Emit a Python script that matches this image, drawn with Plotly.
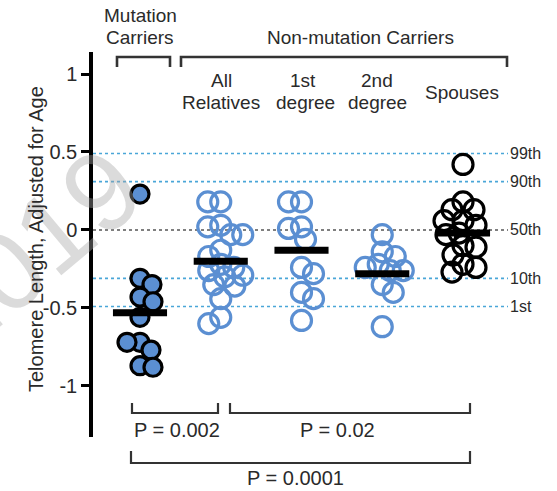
import numpy as np
import plotly.graph_objects as go

# ---------------- data ----------------
groups = ["Mutation Carriers", "All Relatives", "1st degree", "2nd degree", "Spouses"]
mutation_carriers = [0.23, -0.31, -0.35, -0.43, -0.46, -0.56, -0.72, -0.72, -0.77, -0.87, -0.88]
all_relatives = [0.18, 0.18, 0.03, 0.02, -0.03, -0.03, -0.13, -0.17, -0.22, -0.24, -0.26,
                 -0.29, -0.30, -0.35, -0.36, -0.44, -0.56, -0.60]
first_degree = [0.18, 0.18, 0.02, 0.01, -0.06, -0.24, -0.28, -0.40, -0.44, -0.58]
second_degree = [-0.03, -0.14, -0.17, -0.22, -0.24, -0.26, -0.26, -0.35, -0.40, -0.62]
spouses = [0.42, 0.18, 0.13, 0.13, 0.06, 0.06, 0.03, -0.02, -0.03, -0.10, -0.11,
           -0.16, -0.22, -0.24, -0.27]
group_means = [-0.53, -0.20, -0.13, -0.28, -0.02]
percentile_values = [0.49, 0.31, 0.0, -0.31, -0.49]
percentile_labels = ["99th", "90th", "50th", "10th", "1st"]
y_tick_values = [-1, -0.5, 0, 0.5, 1]
y_tick_labels = ["-1", "-0.5", "0", "0.5", "1"]
p_labels = ["P = 0.002", "P = 0.02", "P = 0.0001"]

series = [mutation_carriers, all_relatives, first_degree, second_degree, spouses]

# ---------------- layout constants ----------------
W, H = 557, 491
ML, MR, MT, MB = 93, 47, 52, 54
PW, PH = W - ML - MR, H - MT - MB
XR = [-0.582, 4.582]
YR = [-1.327, 1.141]
px_per_x = PW / (XR[1] - XR[0])
px_per_y = PH / (YR[1] - YR[0])

FONT = "Liberation Sans, Arial, sans-serif"
TXT = "#2a2a2a"
BLUE = "#5b8fd2"


def px2x(X):
    return (X - ML) / PW


def px2y(Y):
    return (H - MB - Y) / PH


def swarm(values, min_dist=13.0, max_off=22):
    """Simple deterministic beeswarm: nearest-to-centre offset that keeps points apart."""
    placed = []
    offs = []
    for n, v in enumerate(values):
        yp = v * px_per_y
        cands = [0.0]
        for k in range(1, max_off + 1):
            cands += [k, -k] if n % 2 == 0 else [-k, k]
        best, best_d = 0.0, -1.0
        chosen = None
        for c in cands:
            d = min([np.hypot(c - px, yp - py) for px, py in placed] or [1e9])
            if d >= min_dist:
                chosen = c
                break
            if d > best_d:
                best, best_d = c, d
        if chosen is None:
            chosen = best
        placed.append((chosen, yp))
        offs.append(chosen / px_per_x)
    return offs


fig = go.Figure()

styles = [
    dict(symbol="circle", size=18, color=BLUE, line=dict(color="black", width=3.2)),
    dict(symbol="circle-open", size=20, color=BLUE, line=dict(width=3.2)),
    dict(symbol="circle-open", size=20, color=BLUE, line=dict(width=3.2)),
    dict(symbol="circle-open", size=20, color=BLUE, line=dict(width=3.2)),
    dict(symbol="circle-open", size=20, color="black", line=dict(width=3.2)),
]

for i, (vals, st) in enumerate(zip(series, styles)):
    offs = swarm(vals)
    fig.add_trace(go.Scatter(
        x=[i + o for o in offs], y=vals, mode="markers",
        marker=st, showlegend=False, hoverinfo="y", cliponaxis=False))

for i, m in enumerate(group_means):
    fig.add_trace(go.Scatter(
        x=[i - 0.335, i + 0.335], y=[m, m], mode="lines",
        line=dict(color="black", width=7), showlegend=False, hoverinfo="skip"))

shapes = []
annotations = []

# faint watermark (drawn first, behind everything)
annotations.append(dict(text="2019", xref="paper", yref="paper", x=px2x(30), y=px2y(252),
                        textangle=-40, showarrow=False, xanchor="center", yanchor="middle",
                        font=dict(size=112, color="rgba(165,165,165,0.40)", family=FONT)))

# percentile reference lines
for v, lab in zip(percentile_values, percentile_labels):
    col = "#555555" if v == 0 else "#4aa6d8"
    shapes.append(dict(type="line", xref="paper", yref="y", x0=0, x1=px2x(508), y0=v, y1=v,
                       line=dict(color=col, width=1.6, dash="dot"), layer="below"))
    annotations.append(dict(text=lab, xref="paper", yref="y", x=px2x(508), y=v,
                            xanchor="left", yanchor="middle", showarrow=False,
                            font=dict(size=16, color=TXT, family=FONT)))

LC = "#333333"


def bracket_down(x0, x1, ytop, ybot):
    return dict(type="path", xref="paper", yref="paper",
                path=f"M {px2x(x0)},{px2y(ybot)} L {px2x(x0)},{px2y(ytop)} "
                     f"L {px2x(x1)},{px2y(ytop)} L {px2x(x1)},{px2y(ybot)}",
                line=dict(color=LC, width=2.6))


def bracket_up(x0, x1, ytop, ybot):
    return dict(type="path", xref="paper", yref="paper",
                path=f"M {px2x(x0)},{px2y(ytop)} L {px2x(x0)},{px2y(ybot)} "
                     f"L {px2x(x1)},{px2y(ybot)} L {px2x(x1)},{px2y(ytop)}",
                line=dict(color=LC, width=2.2))


shapes += [bracket_down(117, 170, 57, 67), bracket_down(181, 507, 57, 67),
           bracket_up(132, 218, 403, 413), bracket_up(230, 470, 403, 413),
           bracket_up(131, 470, 451, 463)]


def text(t, X, Y, size=19, anchor="center"):
    annotations.append(dict(text=t, xref="paper", yref="paper", x=px2x(X), y=px2y(Y),
                            xanchor=anchor, yanchor="middle", showarrow=False,
                            font=dict(size=size, color=TXT, family=FONT)))


text("Mutation", 140, 15)
text("Carriers", 140, 37)
text("Non-mutation Carriers", 360, 37)
text("All", 221, 80)
text("Relatives", 221, 102)
text("1st", 303, 80)
text("degree", 305, 102)
text("2nd", 377, 80)
text("degree", 377, 102)
text("Spouses", 462, 92)
text(p_labels[0], 177, 430, size=20)
text(p_labels[1], 337, 430, size=20)
text(p_labels[2], 295, 478, size=20)

annotations.append(dict(text="Telomere Length, Adjusted for Age", xref="paper", yref="paper",
                        x=px2x(36), y=px2y(239), textangle=-90, showarrow=False,
                        xanchor="center", yanchor="middle",
                        font=dict(size=20, color=TXT, family=FONT)))

fig.update_layout(
    width=W, height=H,
    margin=dict(l=ML, r=MR, t=MT, b=MB),
    paper_bgcolor="white", plot_bgcolor="white",
    shapes=shapes, annotations=annotations,
    xaxis=dict(range=XR, visible=False, fixedrange=True),
    yaxis=dict(range=YR, tickvals=y_tick_values, ticktext=y_tick_labels,
               showline=True, linecolor="black", linewidth=3.5,
               ticks="outside", ticklen=8, tickwidth=3, tickcolor="black",
               showgrid=False, zeroline=False,
               tickfont=dict(size=20, color=TXT, family=FONT)),
    showlegend=False,
)

fig.write_html("out.html")
